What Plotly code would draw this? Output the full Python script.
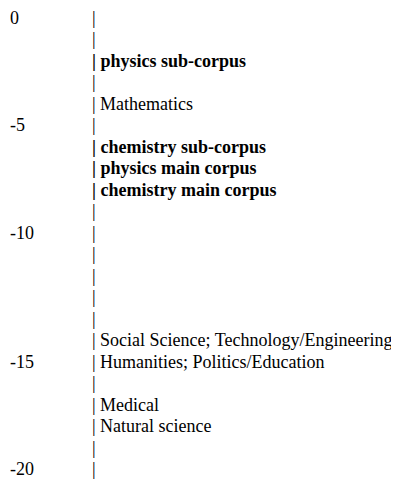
import plotly.graph_objects as go

# one text row per line of the diagram, row 0 at the top
n_rows = 22
tick_labels = ['0', '-5', '-10', '-15', '-20']
tick_rows = [0, 5, 10, 16, 21]

label_rows = [2, 4, 6, 7, 8, 15, 16, 18, 19]
label_texts = [
    'physics sub-corpus',
    'Mathematics',
    'chemistry sub-corpus',
    'physics main corpus',
    'chemistry main corpus',
    'Social Science; Technology/Engineering',
    'Humanities; Politics/Education',
    'Medical',
    'Natural science',
]
label_bold = [True, False, True, True, True, False, False, False, False]

FONT = 'Liberation Serif'

# build the "| label" lines
plain_rows, plain_text = [], []
bold_rows, bold_text = [], []
for r in range(n_rows):
    if r in label_rows:
        i = label_rows.index(r)
        line = '| ' + label_texts[i]
        if label_bold[i]:
            bold_rows.append(r)
            bold_text.append(line)
            continue
        plain_rows.append(r)
        plain_text.append(line)
    else:
        plain_rows.append(r)
        plain_text.append('|')

fig = go.Figure()

fig.add_trace(go.Scatter(
    x=[2] * len(tick_rows), y=tick_rows, text=tick_labels,
    mode='text', textposition='middle right', cliponaxis=False,
    textfont=dict(family=FONT, size=18, color='black'),
    hoverinfo='skip', showlegend=False))

fig.add_trace(go.Scatter(
    x=[84] * len(plain_rows), y=plain_rows, text=plain_text,
    mode='text', textposition='middle right', cliponaxis=False,
    textfont=dict(family=FONT, size=18, color='black'),
    hoverinfo='skip', showlegend=False))

fig.add_trace(go.Scatter(
    x=[84] * len(bold_rows), y=bold_rows, text=bold_text,
    mode='text', textposition='middle right', cliponaxis=False,
    textfont=dict(family=FONT, size=18, color='black', weight='bold'),
    hoverinfo='skip', showlegend=False))

# page adds ~8px body margin, so rows are placed a bit higher in plot coords
row_h = 21.48
top = 11.5
fig.update_layout(
    width=399, height=479,
    margin=dict(l=0, r=0, t=0, b=0),
    plot_bgcolor='white', paper_bgcolor='white',
    xaxis=dict(range=[0, 399], visible=False, fixedrange=True),
    yaxis=dict(range=[(479 - top) / row_h, -top / row_h], visible=False, fixedrange=True),
)

fig.write_html("out.html")
